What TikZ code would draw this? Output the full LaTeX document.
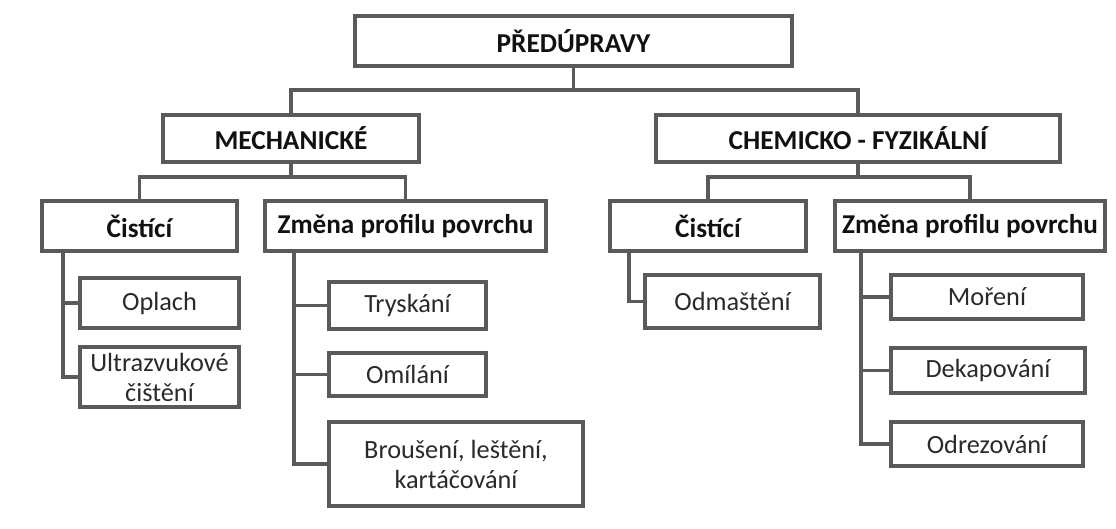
\documentclass[tikz,border=0pt]{standalone}
\usepackage{fontspec}
\setmainfont{Carlito}
\definecolor{linegray}{HTML}{5A5A5A}
\definecolor{txtdark}{HTML}{111111}
\definecolor{txtreg}{HTML}{2A2A2A}
\begin{document}
\begin{tikzpicture}[x=1pt,y=-1pt,
  bx/.style={draw=linegray, line width=3.2pt, fill=white, inner sep=0pt, align=center},
  hd/.style={bx, font=\fontsize{27.3}{32}\selectfont\bfseries, text=txtdark},
  sub/.style={bx, font=\fontsize{27.2}{32}\selectfont\bfseries, text=txtdark},
  leaf/.style={bx, font=\fontsize{26.3}{30}\selectfont, text=txtreg},
  conn/.style={draw=linegray, line width=3.2pt}]
\useasboundingbox (0,0) rectangle (1116,528);
\fill[white] (0,0) rectangle (1116,528);
% level 0
\node[hd, minimum width=437pt, minimum height=50pt] (top) at (573.5,41) {PŘEDÚPRAVY};
% level 1
\node[hd, minimum width=256pt, minimum height=47pt] (mech) at (291,138.5) {MECHANICKÉ};
\node[hd, minimum width=404pt, minimum height=47pt] (chem) at (858,138.5) {CHEMICKO - FYZIKÁLNÍ};
% level 2
\node[sub, minimum width=195pt, minimum height=50pt] (lc) at (139.5,226) {Čistící};
\node[sub, minimum width=281pt, minimum height=50pt] (lz) at (405.5,226) {Změna profilu povrchu};
\node[sub, minimum width=196pt, minimum height=50pt] (rc) at (708,226) {Čistící};
\node[sub, minimum width=270pt, minimum height=50pt] (rz) at (970,226) {Změna profilu povrchu};
% leaves
\node[leaf, minimum width=159pt, minimum height=50pt] (oplach) at (159.5,303) {Oplach};
\node[leaf, minimum width=159pt, minimum height=60pt] (ultra) at (159.5,377) {Ultrazvukové\\čištění};
\node[leaf, minimum width=157pt, minimum height=47pt] (trysk) at (407.5,305.5) {Tryskání};
\node[leaf, minimum width=157pt, minimum height=43pt] (omil) at (407.5,374.5) {Omílání};
\node[leaf, minimum width=254pt, minimum height=84pt] (brous) at (456,464) {Broušení, leštění,\\kartáčování};
\node[leaf, minimum width=175pt, minimum height=53pt] (odmas) at (732.5,301.5) {Odmaštění};
\node[leaf, minimum width=192pt, minimum height=44pt] (moreni) at (987,297) {Moření};
\node[leaf, minimum width=194pt, minimum height=45pt] (dekap) at (988,370.5) {Dekapování};
\node[leaf, minimum width=192pt, minimum height=44pt] (odrez) at (987,444) {Odrezování};
% bus coordinates
\coordinate (b0) at (573.5,90);
\coordinate (b1) at (291,177);
\coordinate (b2) at (858,177);
\coordinate (slc) at (63,251);
\coordinate (slz) at (294,251);
\coordinate (src) at (629,251);
\coordinate (srz) at (861,251);
% connectors
\draw[conn] (top.south) -- (b0);
\draw[conn] (mech.north) |- (b0) -| (chem.north);
\draw[conn] (mech.south) -- (b1);
\draw[conn] (lc.north) |- (b1) -| (lz.north);
\draw[conn] (chem.south) -- (b2);
\draw[conn] (rc.north) |- (b2) -| (rz.north);
\draw[conn] (slc) |- (oplach.west);
\draw[conn] (slc) |- (ultra.west);
\draw[conn] (slz) |- (trysk.west);
\draw[conn] (slz) |- (omil.west);
\draw[conn] (slz) |- (brous.west);
\draw[conn] (src) |- (odmas.west);
\draw[conn] (srz) |- (moreni.west);
\draw[conn] (srz) |- (dekap.west);
\draw[conn] (srz) |- (odrez.west);
\end{tikzpicture}
\end{document}
